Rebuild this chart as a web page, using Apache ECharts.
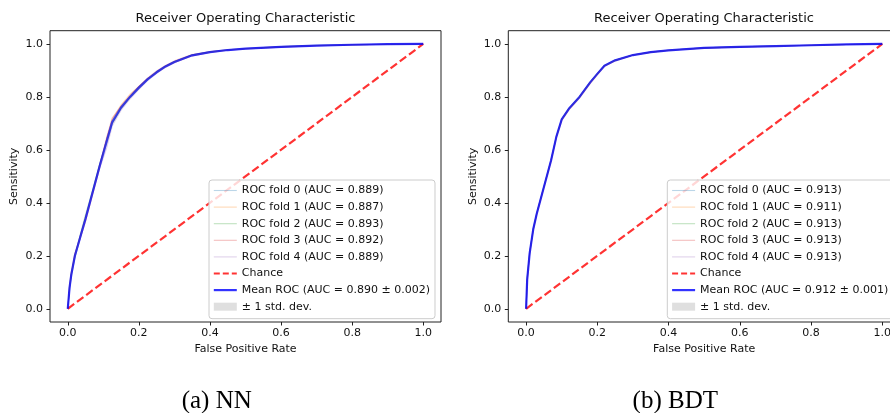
<!DOCTYPE html>
<html><head><meta charset="utf-8">
<script src="https://cdn.jsdelivr.net/npm/echarts@6/dist/echarts.min.js"></script>
<style>html,body{margin:0;padding:0;background:#fff;overflow:hidden;width:890px;height:413px}#chart{width:905px;height:413px}</style>
</head><body><div id="chart"></div>
<script>
const titleText = 'Receiver Operating Characteristic';
const xAxisTitle = 'False Positive Rate';
const yAxisTitle = 'Sensitivity';
const captions = ['(a) NN', '(b) BDT'];
const tickValues = [0, 0.2, 0.4, 0.6, 0.8, 1.0];
const chanceX = [0, 1];
const chanceY = [0, 1];
const chanceName = 'Chance';
const stdName = '\u00b1 1 std. dev.';

// NN panel
const nnFpr  = [0, 0.005, 0.01, 0.02, 0.035, 0.05, 0.07, 0.09, 0.11, 0.125, 0.15, 0.175, 0.2, 0.225, 0.25, 0.275, 0.3, 0.35, 0.4, 0.45, 0.5, 0.6, 0.7, 0.8, 0.9, 1.0];
const nnMean = [0, 0.08, 0.13, 0.2, 0.27, 0.34, 0.44, 0.54, 0.635, 0.705, 0.76, 0.80, 0.835, 0.867, 0.893, 0.915, 0.932, 0.957, 0.969, 0.977, 0.982, 0.989, 0.994, 0.997, 0.999, 1.0];
const nnStd  = [0, 0.01, 0.01, 0.01, 0.008, 0.008, 0.008, 0.008, 0.015, 0.012, 0.008, 0.006, 0.005, 0.004, 0.004, 0.003, 0.003, 0.002, 0.002, 0.001, 0.001, 0.001, 0.001, 0.0005, 0.0005, 0];
const nnFold0 = [0, 0.07, 0.12, 0.19, 0.27, 0.345, 0.445, 0.545, 0.64, 0.70, 0.755, 0.80, 0.838, 0.868, 0.895, 0.917, 0.934, 0.958, 0.970, 0.977, 0.982, 0.989, 0.994, 0.997, 0.999, 1];
const nnFold1 = [0, 0.09, 0.14, 0.21, 0.265, 0.33, 0.43, 0.535, 0.645, 0.715, 0.77, 0.81, 0.84, 0.87, 0.892, 0.913, 0.930, 0.955, 0.968, 0.976, 0.981, 0.988, 0.993, 0.996, 0.999, 1];
const nnFold2 = [0, 0.085, 0.135, 0.2, 0.28, 0.355, 0.45, 0.55, 0.63, 0.70, 0.758, 0.797, 0.832, 0.865, 0.893, 0.916, 0.933, 0.959, 0.970, 0.978, 0.983, 0.99, 0.995, 0.997, 0.999, 1];
const nnFold3 = [0, 0.08, 0.13, 0.205, 0.275, 0.345, 0.44, 0.545, 0.65, 0.72, 0.765, 0.805, 0.84, 0.872, 0.898, 0.919, 0.936, 0.960, 0.971, 0.978, 0.983, 0.99, 0.994, 0.997, 0.999, 1];
const nnFold4 = [0, 0.075, 0.125, 0.195, 0.265, 0.33, 0.435, 0.53, 0.61, 0.69, 0.75, 0.792, 0.828, 0.862, 0.889, 0.912, 0.929, 0.955, 0.968, 0.976, 0.981, 0.988, 0.993, 0.996, 0.999, 1];
const nnFoldNames = ['ROC fold 0 (AUC = 0.889)', 'ROC fold 1 (AUC = 0.887)', 'ROC fold 2 (AUC = 0.893)', 'ROC fold 3 (AUC = 0.892)', 'ROC fold 4 (AUC = 0.889)'];
const nnMeanName = 'Mean ROC (AUC = 0.890 \u00b1 0.002)';

// BDT panel
const bdtFpr  = [0, 0.003, 0.01, 0.02, 0.03, 0.04, 0.05, 0.06, 0.07, 0.085, 0.1, 0.12, 0.15, 0.18, 0.2, 0.22, 0.25, 0.3, 0.35, 0.4, 0.5, 0.6, 0.7, 0.8, 0.9, 1.0];
const bdtMean = [0, 0.11, 0.21, 0.3, 0.36, 0.41, 0.46, 0.51, 0.56, 0.65, 0.715, 0.755, 0.80, 0.855, 0.887, 0.918, 0.938, 0.958, 0.969, 0.976, 0.985, 0.989, 0.992, 0.995, 0.998, 1.0];
const bdtStd  = [0, 0.007, 0.004, 0.004, 0.003, 0.003, 0.003, 0.003, 0.003, 0.003, 0.003, 0.003, 0.003, 0.003, 0.003, 0.002, 0.002, 0.001, 0.001, 0.001, 0.001, 0.001, 0.001, 0.0005, 0.0005, 0];
const bdtFold0 = [0, 0.12, 0.215, 0.305, 0.362, 0.412, 0.462, 0.512, 0.563, 0.652, 0.717, 0.757, 0.802, 0.857, 0.889, 0.919, 0.939, 0.958, 0.969, 0.976, 0.985, 0.989, 0.992, 0.995, 0.998, 1];
const bdtFold1 = [0, 0.10, 0.205, 0.295, 0.355, 0.405, 0.455, 0.505, 0.555, 0.645, 0.71, 0.75, 0.795, 0.85, 0.883, 0.915, 0.936, 0.957, 0.968, 0.975, 0.984, 0.988, 0.991, 0.995, 0.998, 1];
const bdtFold2 = [0, 0.115, 0.21, 0.3, 0.362, 0.411, 0.462, 0.511, 0.561, 0.651, 0.716, 0.756, 0.801, 0.857, 0.888, 0.919, 0.938, 0.958, 0.969, 0.976, 0.985, 0.989, 0.992, 0.995, 0.998, 1];
const bdtFold3 = [0, 0.11, 0.212, 0.302, 0.36, 0.41, 0.46, 0.51, 0.56, 0.65, 0.715, 0.755, 0.80, 0.855, 0.887, 0.918, 0.938, 0.958, 0.969, 0.976, 0.985, 0.989, 0.992, 0.995, 0.998, 1];
const bdtFold4 = [0, 0.105, 0.208, 0.298, 0.36, 0.41, 0.46, 0.51, 0.56, 0.649, 0.714, 0.754, 0.80, 0.855, 0.887, 0.918, 0.938, 0.959, 0.970, 0.977, 0.985, 0.989, 0.992, 0.995, 0.998, 1];
const bdtFoldNames = ['ROC fold 0 (AUC = 0.913)', 'ROC fold 1 (AUC = 0.911)', 'ROC fold 2 (AUC = 0.913)', 'ROC fold 3 (AUC = 0.913)', 'ROC fold 4 (AUC = 0.913)'];
const bdtMeanName = 'Mean ROC (AUC = 0.912 \u00b1 0.001)';

// ---- styling / building ----
const FONT = 'DejaVu Sans';
const TXT = '#111';
const foldColors = ['rgba(31,119,180,0.3)', 'rgba(255,127,14,0.3)', 'rgba(44,160,44,0.3)', 'rgba(214,39,40,0.3)', 'rgba(148,103,189,0.3)'];
const meanColor = 'rgba(0,0,255,0.8)';
const chanceColor = 'rgba(255,0,0,0.8)';
const bandColor = 'rgba(128,128,128,0.2)';
const dash = [8, 3.5];

const zip = (xs, ys) => xs.map((x, i) => [x, ys[i]]);

function panelSeries(idx, fpr, folds, foldNames, mean, std, meanName) {
  const s = [];
  folds.forEach((f, k) => s.push({
    type: 'line', name: foldNames[k], xAxisIndex: idx, yAxisIndex: idx,
    data: zip(fpr, f), showSymbol: false, symbol: 'none', silent: true,
    lineStyle: { color: foldColors[k], width: 1.1 }, itemStyle: { color: foldColors[k] }, z: 2
  }));
  s.push({
    type: 'line', name: chanceName, xAxisIndex: idx, yAxisIndex: idx,
    data: zip(chanceX, chanceY), symbol: 'none', silent: true,
    lineStyle: { color: chanceColor, width: 2.2, type: dash, cap: 'butt' }, itemStyle: { color: chanceColor }, z: 3
  });
  s.push({
    type: 'line', name: meanName, xAxisIndex: idx, yAxisIndex: idx,
    data: zip(fpr, mean), symbol: 'none', silent: true,
    lineStyle: { color: meanColor, width: 2.2 }, itemStyle: { color: meanColor }, z: 4
  });
  const lower = mean.map((m, i) => Math.max(m - std[i], 0));
  const upper = mean.map((m, i) => Math.min(m + std[i], 1));
  s.push({
    type: 'custom', name: stdName, xAxisIndex: idx, yAxisIndex: idx, silent: true, z: 5,
    itemStyle: { color: bandColor },
    data: fpr.map((x, i) => [x, lower[i], upper[i]]),
    encode: { x: 0, y: [1, 2] },
    renderItem: function (params, api) {
      if (params.dataIndex !== 0) return null;
      const pts = [];
      for (let i = 0; i < fpr.length; i++) pts.push(api.coord([fpr[i], upper[i]]));
      for (let i = fpr.length - 1; i >= 0; i--) pts.push(api.coord([fpr[i], lower[i]]));
      return { type: 'polygon', shape: { points: pts }, style: { fill: bandColor, stroke: null } };
    }
  });
  return s;
}

function legendFor(left, foldNames, meanName) {
  const hideSym = { opacity: 0 };
  const data = foldNames.map((n, k) => ({ name: n, itemStyle: hideSym, lineStyle: { color: foldColors[k], width: 1.1 } }));
  data.push({ name: chanceName, itemStyle: hideSym, lineStyle: { color: chanceColor, width: 2.2, type: [6, 3], cap: 'butt' } });
  data.push({ name: meanName, itemStyle: hideSym, lineStyle: { color: meanColor, width: 2.2 } });
  data.push({ name: stdName, icon: 'rect', itemStyle: { color: 'rgba(128,128,128,0.25)', borderWidth: 0, opacity: 1 } });
  return {
    orient: 'vertical', left: left, top: 180, selectedMode: false,
    padding: [5, 5, 6.5, 3.7], itemWidth: 23, itemHeight: 8, itemGap: 5.6, itemTextGap: 9,
    backgroundColor: 'rgba(255,255,255,0.8)', borderColor: '#ccc', borderWidth: 1, borderRadius: 3,
    textStyle: { fontFamily: FONT, fontSize: 11, color: TXT, lineHeight: 11 },
    data: data, z: 10
  };
}

function xAxisFor(idx) {
  return {
    type: 'value', gridIndex: idx, min: -0.05, max: 1.05,
    name: xAxisTitle, nameLocation: 'middle', nameGap: 22,
    nameTextStyle: { fontFamily: FONT, fontSize: 11, color: TXT },
    axisLine: { show: false, onZero: false }, splitLine: { show: false },
    axisTick: { show: true, length: 3.5, lineStyle: { color: '#222', width: 1 }, customValues: tickValues },
    axisLabel: { fontFamily: FONT, fontSize: 11, color: TXT, margin: 6, customValues: tickValues, formatter: v => v.toFixed(1) }
  };
}
function yAxisFor(idx) {
  return {
    type: 'value', gridIndex: idx, min: -0.05, max: 1.05,
    name: yAxisTitle, nameLocation: 'middle', nameGap: 30, nameRotate: 90,
    nameTextStyle: { fontFamily: FONT, fontSize: 11, color: TXT },
    axisLine: { show: false, onZero: false }, splitLine: { show: false },
    axisTick: { show: true, length: 3.5, lineStyle: { color: '#222', width: 1 }, customValues: tickValues },
    axisLabel: { fontFamily: FONT, fontSize: 11, color: TXT, margin: 7, customValues: tickValues, formatter: v => v.toFixed(1) }
  };
}

const chart = echarts.init(document.getElementById('chart'), null, { renderer: 'canvas' });
const option = {
  animation: false,
  backgroundColor: '#fff',
  title: [
    { text: titleText, left: 245.5, top: 19, textAlign: 'center', textVerticalAlign: 'middle', padding: 0, textStyle: { fontFamily: FONT, fontSize: 13, fontWeight: 'normal', color: TXT } },
    { text: titleText, left: 704, top: 19, textAlign: 'center', textVerticalAlign: 'middle', padding: 0, textStyle: { fontFamily: FONT, fontSize: 13, fontWeight: 'normal', color: TXT } },
    { text: captions[0], left: 216.7, top: 401, textAlign: 'center', textVerticalAlign: 'middle', padding: 0, textStyle: { fontFamily: 'Liberation Serif', fontSize: 25, fontWeight: 'normal', color: '#000' } },
    { text: captions[1], left: 675.3, top: 401, textAlign: 'center', textVerticalAlign: 'middle', padding: 0, textStyle: { fontFamily: 'Liberation Serif', fontSize: 25, fontWeight: 'normal', color: '#000' } }
  ],
  grid: [
    { left: 50, top: 30.7, width: 391, height: 291.3, show: true, borderColor: '#222', borderWidth: 1, backgroundColor: 'transparent' },
    { left: 508.3, top: 30.7, width: 391.8, height: 291.3, show: true, borderColor: '#222', borderWidth: 1, backgroundColor: 'transparent' }
  ],
  xAxis: [xAxisFor(0), xAxisFor(1)],
  yAxis: [yAxisFor(0), yAxisFor(1)],
  legend: [legendFor(209, nnFoldNames, nnMeanName), legendFor(667.3, bdtFoldNames, bdtMeanName)],
  series: [].concat(
    panelSeries(0, nnFpr, [nnFold0, nnFold1, nnFold2, nnFold3, nnFold4], nnFoldNames, nnMean, nnStd, nnMeanName),
    panelSeries(1, bdtFpr, [bdtFold0, bdtFold1, bdtFold2, bdtFold3, bdtFold4], bdtFoldNames, bdtMean, bdtStd, bdtMeanName)
  )
};
chart.setOption(option);
</script></body></html>
